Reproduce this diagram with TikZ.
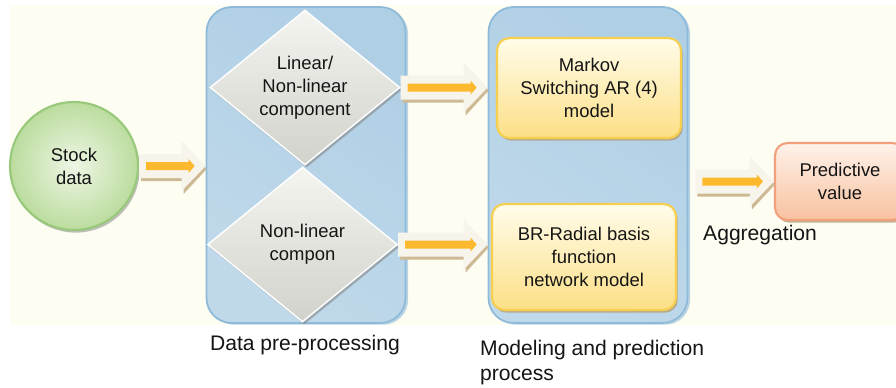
\documentclass[tikz,border=0pt]{standalone}
\usepackage{fontspec}
\setmainfont{Liberation Sans}
\usetikzlibrary{shapes.geometric,shadows,calc}
\definecolor{cream}{HTML}{FEFDF2}
\definecolor{txt}{HTML}{151515}
\definecolor{blueD}{HTML}{AFCFE5}
\definecolor{blueM}{HTML}{E5F0F7}
\definecolor{blueL}{HTML}{C0D9EA}
\definecolor{blueB}{HTML}{8EBADA}
\definecolor{yelT}{HTML}{FFFCEA}
\definecolor{yelB}{HTML}{FCDF86}
\definecolor{yelE}{HTML}{F7CF4E}
\definecolor{orT}{HTML}{FEF2EA}
\definecolor{orB}{HTML}{F8C19F}
\definecolor{orE}{HTML}{F2A07C}
\definecolor{grIn}{HTML}{EEF6E5}
\definecolor{grOut}{HTML}{BBDC9E}
\definecolor{grE}{HTML}{98C879}
\definecolor{dmT}{HTML}{F4F4F0}
\definecolor{dmB}{HTML}{D2D2CC}
\definecolor{arBody}{HTML}{F7F4EC}
\definecolor{arShadow}{HTML}{CDBA94}
\definecolor{arOrange}{HTML}{FDB92E}
\definecolor{shBrown}{HTML}{B49E78}
\newcommand\blockarrow[2]{%
  \path let \p1=#1, \p2=#2 in coordinate (bas) at (\x1,\y1) coordinate (bae) at (\x2,\y1);
  \fill[arShadow] ($(bas)+(2,-9)$) -- ($(bae)+(-22,-9)$) -- ($(bae)+(-22,-22)$) -- ($(bae)+(1,3)$) -- ($(bae)+(-22,28)$) -- ($(bae)+(-22,15)$) -- ($(bas)+(2,15)$) -- cycle;
  \fill[arBody] ($(bas)+(0,-12)$) -- ($(bae)+(-24,-12)$) -- ($(bae)+(-24,-25)$) -- (bae) -- ($(bae)+(-24,25)$) -- ($(bae)+(-24,12)$) -- ($(bas)+(0,12)$) -- cycle;
  \fill[arOrange] ($(bas)+(7,-4)$) -- ($(bae)+(-17,-4)$) -- ($(bae)+(-17,-7)$) -- ($(bae)+(-11,0)$) -- ($(bae)+(-17,7)$) -- ($(bae)+(-17,4)$) -- ($(bas)+(7,4)$) -- cycle;
}
\tikzset{
  nodetext/.style={text=txt, align=center, font=\fontsize{10.5}{13}\selectfont},
  captext/.style={text=txt, font=\fontsize{12}{14.5}\selectfont},
  bluebox/.style={rectangle, rounded corners=0.5cm, minimum width=3.98cm, minimum height=6.32cm,
    draw=blueB, line width=1pt, top color=blueD, middle color=blueM, bottom color=blueL, shading angle=-35,
    drop shadow={shadow xshift=1.5pt, shadow yshift=-1pt, fill=blueB, opacity=0.6}},
  diam/.style={nodetext, diamond, aspect=1.23, inner sep=0pt, minimum width=3.8cm, minimum height=3.1cm,
    top color=dmT, bottom color=dmB, draw=white, line width=0.8pt,
    drop shadow={shadow xshift=1pt, shadow yshift=-1.5pt, fill=gray, opacity=0.55}},
  yelbox/.style={nodetext, rectangle, rounded corners=0.25cm, minimum width=3.68cm,
    top color=yelT, bottom color=yelB, draw=yelE, line width=1.2pt,
    drop shadow={shadow xshift=1pt, shadow yshift=-1.5pt, fill=shBrown, opacity=0.8}},
  orbox/.style={nodetext, rectangle, rounded corners=0.25cm, minimum width=2.6cm, minimum height=1.54cm,
    top color=orT, bottom color=orB, draw=orE, line width=1.2pt,
    drop shadow={shadow xshift=1pt, shadow yshift=-1.5pt, fill=shBrown, opacity=0.8}},
  grcircle/.style={nodetext, circle, minimum size=2.56cm, inner color=grIn, outer color=grOut,
    draw=grE, line width=1.2pt,
    drop shadow={shadow xshift=1pt, shadow yshift=-1.5pt, fill=gray, opacity=0.5}}
}
\begin{document}
\begin{tikzpicture}[x=0.02cm,y=-0.02cm]
\useasboundingbox (0,0) rectangle (896,387);
\clip (0,0) rectangle (896,387);
\fill[white] (0,0) rectangle (896,387);
\fill[cream] (10,5) rectangle (896,325);

\node[grcircle] (stock) at (74,166) {Stock\\data};

\node[bluebox] (pre) at (306,165) {};
\node[diam] (d1) at (305,87.5) {Linear/\\Non-linear\\component};
\node[diam] (d2) at (302.5,244.5) {Non-linear\\compon};

\node[bluebox] (mod) at (588,165) {};
\node[yelbox, minimum height=2cm] (m1) at (589,88) {Markov\\Switching AR (4)\\model};
\node[yelbox, minimum height=2.12cm] (m2) at (584,257) {BR-Radial basis\\function\\network model};

\node[orbox] (pred) at (840,181.5) {Predictive\\value};

\blockarrow{(stock.east)}{(pre.west)}
\blockarrow{(d1.east)}{(mod.west)}
\blockarrow{(d2.east)}{(mod.west)}
\blockarrow{($(mod.east |- pred.west)+(7,0)$)}{(pred.west)}

\node[captext, anchor=west] (agg) at (697,235) {Aggregation};
\node[captext] (cap1) at (305,345) {Data pre-processing};
\node[captext, anchor=north west, align=left] (cap2) at (474,334) {Modeling and prediction\\process};
\end{tikzpicture}
\end{document}
